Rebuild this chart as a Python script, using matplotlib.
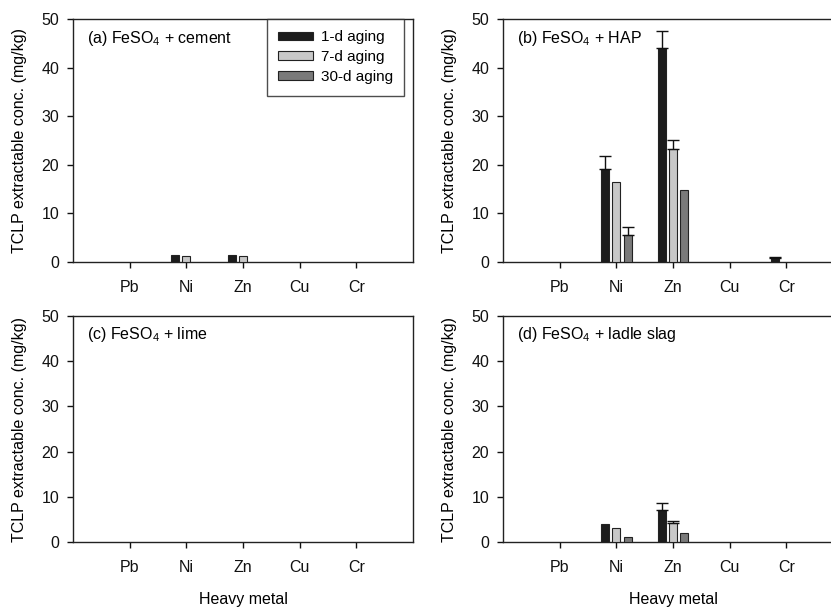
import matplotlib
matplotlib.use("Agg")
import matplotlib.pyplot as plt
from matplotlib.patches import Patch
import numpy as np

plt.rcParams['font.family'] = ['Liberation Sans', 'DejaVu Sans']
plt.rcParams['mathtext.fontset'] = 'custom'
plt.rcParams['mathtext.rm'] = 'Liberation Sans'

metals = ['Pb', 'Ni', 'Zn', 'Cu', 'Cr']
series_names = ['1-d aging', '7-d aging', '30-d aging']

panel_titles = ['(a) FeSO$_4$ + cement', '(b) FeSO$_4$ + HAP',
                '(c) FeSO$_4$ + lime', '(d) FeSO$_4$ + ladle slag']

# values [panel][series][metal]
a_1d = [0, 1.5, 1.5, 0, 0]
a_7d = [0, 1.2, 1.3, 0, 0]
a_30d = [0, 0, 0, 0, 0]
a_1d_err = [0, 0, 0, 0, 0]
a_7d_err = [0, 0, 0, 0, 0]
a_30d_err = [0, 0, 0, 0, 0]

b_1d = [0, 19.2, 44.0, 0, 0.8]
b_7d = [0, 16.4, 23.3, 0, 0]
b_30d = [0, 5.6, 14.8, 0, 0]
b_1d_err = [0, 2.7, 3.5, 0, 0.2]
b_7d_err = [0, 0, 1.8, 0, 0]
b_30d_err = [0, 1.7, 0, 0, 0]

c_1d = [0, 0, 0, 0, 0]
c_7d = [0, 0, 0, 0, 0]
c_30d = [0, 0, 0, 0, 0]
c_1d_err = [0, 0, 0, 0, 0]
c_7d_err = [0, 0, 0, 0, 0]
c_30d_err = [0, 0, 0, 0, 0]

d_1d = [0, 4.0, 7.0, 0, 0]
d_7d = [0, 3.0, 4.2, 0, 0]
d_30d = [0, 1.1, 2.1, 0, 0]
d_1d_err = [0, 0, 1.6, 0, 0]
d_7d_err = [0, 0, 0.5, 0, 0]
d_30d_err = [0, 0, 0, 0, 0]

panels = [
    ([a_1d, a_7d, a_30d], [a_1d_err, a_7d_err, a_30d_err]),
    ([b_1d, b_7d, b_30d], [b_1d_err, b_7d_err, b_30d_err]),
    ([c_1d, c_7d, c_30d], [c_1d_err, c_7d_err, c_30d_err]),
    ([d_1d, d_7d, d_30d], [d_1d_err, d_7d_err, d_30d_err]),
]

colors = ['#1c1c1c', '#c8c8c8', '#7a7a7a']
W, H = 831, 611
fig = plt.figure(figsize=(W / 100, H / 100), dpi=100)

# axes rectangles in pixel coords: left, top, right, bottom
rects = [(73, 19, 413, 262), (503, 19, 843, 262),
         (73, 316, 413, 542), (503, 316, 843, 542)]

x = np.arange(1, len(metals) + 1)
offsets = [-0.2, 0.0, 0.2]
bw = 0.14

for i, (rect, (vals, errs)) in enumerate(zip(rects, panels)):
    l, t, r, b = rect
    ax = fig.add_axes([l / W, 1 - b / H, (r - l) / W, (b - t) / H])
    for k in range(3):
        v = np.array(vals[k])
        e = np.array(errs[k])
        mask = v > 0
        if mask.any():
            ax.bar(x[mask] + offsets[k], v[mask], width=bw, color=colors[k],
                   edgecolor='#222222', linewidth=0.8, zorder=3)
            em = mask & (e > 0)
            if em.any():
                ax.errorbar(x[em] + offsets[k], v[em],
                            yerr=[np.zeros(em.sum()), e[em]],
                            fmt='none', ecolor='#111111', elinewidth=1.0,
                            capsize=4, capthick=1.0, zorder=4)
    ax.set_xlim(0, 6)
    ax.set_ylim(0, 50)
    ax.set_xticks(x)
    ax.set_xticklabels(metals)
    ax.set_yticks([0, 10, 20, 30, 40, 50])
    ax.tick_params(direction='out', length=4, width=1, labelsize=11.5, colors='#111111')
    ax.tick_params(axis='x', pad=9)
    ax.tick_params(axis='y', pad=6)
    for s in ax.spines.values():
        s.set_linewidth(1.0)
        s.set_color('#222222')
    ax.set_ylabel('TCLP extractable conc. (mg/kg)', fontsize=11.5, labelpad=10)
    if i >= 2:
        ax.set_xlabel('Heavy metal', fontsize=11.5, labelpad=12)
    ax.text(0.04, 0.96, panel_titles[i], transform=ax.transAxes,
            fontsize=11.5, va='top', ha='left')
    if i == 0:
        handles = [Patch(facecolor=colors[k], edgecolor='#222222', linewidth=0.8)
                   for k in range(3)]
        leg = ax.legend(handles, series_names, loc='upper right',
                        bbox_to_anchor=(0.975, 1.0),
                        frameon=True, fancybox=False, edgecolor='#222222',
                        fontsize=11, handlelength=2.3, handleheight=0.5,
                        borderpad=0.75, labelspacing=0.38, handletextpad=0.5,
                        borderaxespad=0.0)
        leg.get_frame().set_linewidth(1.0)

fig.savefig('out.png', dpi=100)
